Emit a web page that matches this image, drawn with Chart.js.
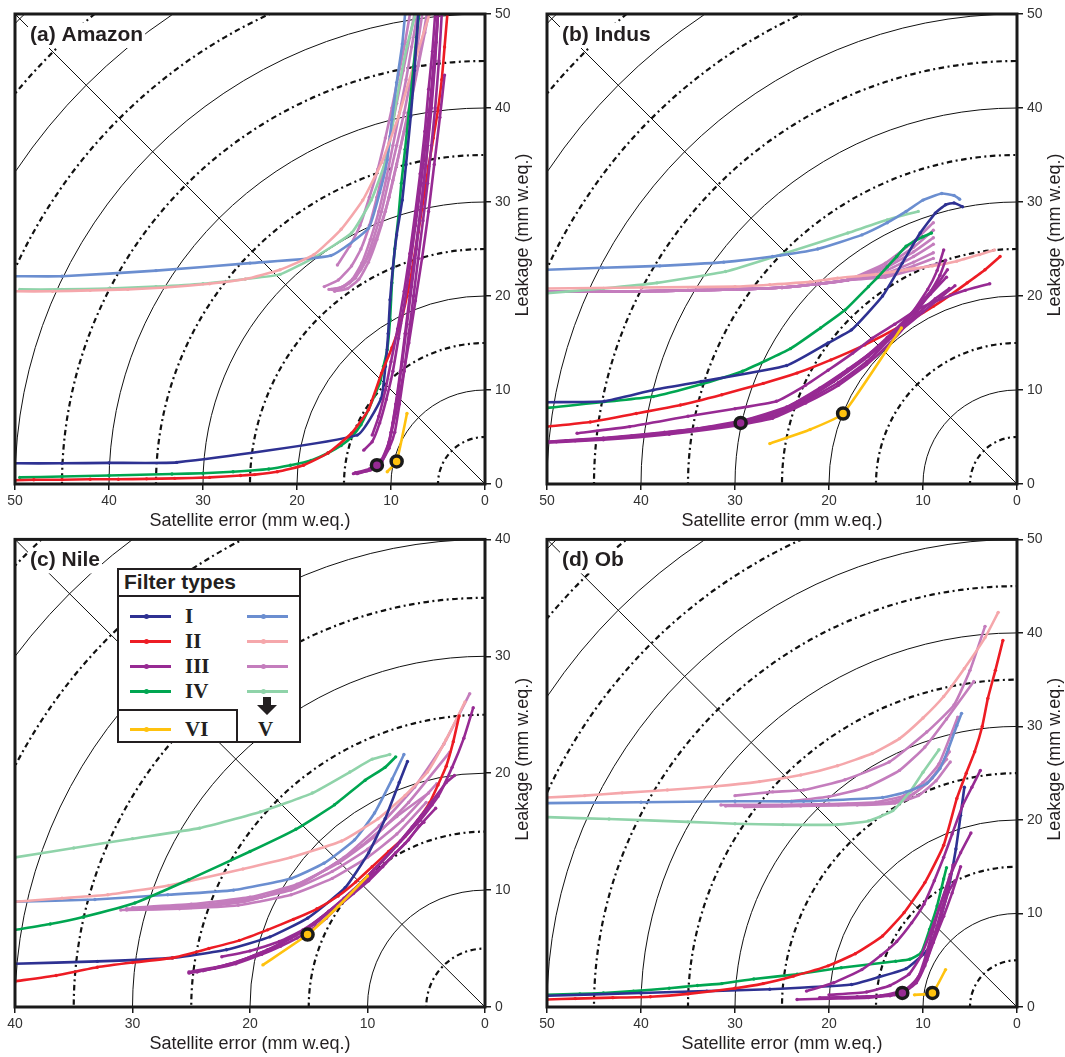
<!DOCTYPE html>
<html>
<head>
<meta charset="utf-8">
<script src="https://cdn.jsdelivr.net/npm/chart.js@4.4.1/dist/chart.umd.min.js"></script>
<style>
  body { margin: 0; background: #fff; }
  #page { position: relative; width: 1065px; height: 1057px; overflow: hidden; font-family: "Liberation Sans", Arial, sans-serif; }
  canvas { position: absolute; }
  .lg { position: absolute; box-sizing: border-box; }
  .rn { position: absolute; font: bold 21px "Liberation Serif", "Times New Roman", serif; color: #231f20; line-height: 24px; }
</style>
</head>
<body>
<div id="page">
  <canvas id="pa" width="545" height="530" style="left:0;top:0"></canvas>
  <canvas id="pb" width="535" height="530" style="left:530px;top:0"></canvas>
  <canvas id="pc" width="545" height="530" style="left:0;top:527px"></canvas>
  <canvas id="pd" width="535" height="530" style="left:530px;top:527px"></canvas>
</div>
<script>
// [satellite error, leakage] pairs
const ringsSolid = [10, 20, 30, 40, 50, 60, 70];
const ringsDash = [5, 15, 25, 35, 45, 55, 65];
const axisTicks50 = [0, 10, 20, 30, 40, 50];
const axisTicks40 = [0, 10, 20, 30, 40];

// ---- (a) Amazon
const amazonI = [[50,2.2],[45,2.2],[40,2.25],[32.8,2.3],[13.6,5.2],[11.05,9.1],[10.6,12.5],[10.3,16],[10.1,19.6],[9.8,23],[9.4,26.5],[8.8,30.2],[8.4,34],[7.9,39.1],[7.5,44],[7.1,50],[6.9,53]];
const amazonII = [[50,0.4],[48,0.45],[45,0.45],[42,0.5],[39,0.5],[36,0.55],[33,0.6],[29.3,0.7],[26,0.9],[24.5,1.0],[22.1,1.3],[19.3,2.0],[16.7,3.3],[14.2,5.4],[12.4,7.9],[11.0,11.8],[9.9,14.5],[9.0,17.1],[8.3,20],[7.7,23.1],[7.1,26.8],[6.5,30.6],[6.0,33.8],[5.5,36.8],[5.0,39.8],[4.6,43],[4.3,46.5],[4.0,50],[3.8,52]];
const amazonIV = [[49.5,0.7],[45,0.8],[40,0.9],[33.3,1.07],[30,1.15],[26.8,1.3],[23,1.6],[20.7,2.0],[18.5,2.5],[16.7,3.3],[15.3,4.1],[14.2,5.0],[13.2,6.3],[12.4,7.9],[11.8,9.3],[11.2,10.7],[10.8,12.5],[10.4,14.3],[10.1,17.5],[9.9,21.4],[9.6,25],[9.2,28.5],[8.9,32],[8.5,35.6],[8.1,39.5],[7.6,44.4],[7.3,47.5],[7.0,50],[6.8,52]];
const amazonIII = [
  [[14,1.1],[12.5,1.4],[11.2,2.2],[10.5,3.5],[10.0,5.5],[9.5,8.5],[9.0,12],[8.5,16],[8.0,20],[7.5,24],[7.0,28],[6.5,32],[6.1,36],[5.7,40],[5.3,45],[5.0,50],[4.8,52]],
  [[13.5,1.2],[12.2,1.5],[11.0,2.4],[10.2,3.8],[9.6,5.5],[9.1,8.5],[8.6,12],[8.1,16],[7.6,20],[7.1,24],[6.6,28],[6.1,32],[5.7,36],[5.3,40],[4.9,45],[4.6,50],[4.5,52]],
  [[12.9,3.6],[12.0,4.5],[11.2,6.5],[10.5,9],[9.8,12],[9.2,15.5],[8.6,19],[8.0,23],[7.4,27.5],[6.8,32],[6.3,36.5],[5.8,41],[5.4,45.5],[5.0,50],[4.9,52]],
  [[12.0,5.2],[11.3,7.2],[10.6,10],[10.0,13],[9.3,16.5],[8.6,20.5],[8.0,24.5],[7.4,29],[6.9,33],[6.4,37.5],[6.0,42],[5.6,46],[5.3,50],[5.2,52]],
  [[13.8,1.2],[12.3,1.6],[11.0,2.6],[10.2,4.5],[9.5,7.5],[8.8,11],[8.1,15],[7.4,19.5],[6.7,24],[6.0,29],[5.4,34],[4.8,39],[4.3,43.5]],
  [[13.6,1.1],[12.2,1.5],[11.0,2.3],[10.3,4],[9.8,6.5],[9.3,9.5],[8.8,13],[8.3,17],[7.8,21],[7.3,25],[6.8,29.5],[6.3,34],[5.9,38.5],[5.5,43],[5.2,47],[5.0,50],[4.9,52]]
];
const amazonVI = [[10.4,1.3],[9.4,2.4],[8.3,7.5]];
const amazonVI1 = [[50,22.1],[45,22.1],[35,22.7],[25,23.5],[16.4,24.3],[12.4,27.2],[11.2,31.0],[10.4,34.5],[9.9,38.8],[9.4,42.7],[8.8,46.8],[8.5,50],[8.3,52]];
const amazonVII = [[50,20.5],[46,20.5],[42,20.6],[38,20.7],[34,20.9],[29.3,21.3],[25.5,21.8],[21.8,22.8],[18.2,24.4],[15.3,27.1],[13.0,30.2],[11.0,34.2],[9.2,39.1],[7.4,45.2],[5.9,50],[5.5,51.5]];
const amazonVIV = [[49.5,20.7],[45,20.7],[40,20.8],[35,21.0],[30,21.3],[25.5,21.8],[21.8,22.3],[18.0,24.2],[14.2,26.7],[12.1,30.2],[10.4,34.9],[9.4,40.9],[8.3,46.6],[7.4,50],[7.1,51.5]];
const amazonVIII = [
  [[17.1,21.0],[15.6,21.7],[14.2,23.2],[13.2,25.0],[12.3,27.5],[11.5,30.5],[10.8,33.5],[10.1,37],[9.4,40.5],[8.7,44],[8.0,47.5],[7.4,50.5]],
  [[16.6,20.7],[15.3,20.9],[14.1,21.8],[13.1,23.5],[12.2,26],[11.3,29],[10.5,32.5],[9.8,36],[9.1,39.5],[8.4,43],[7.8,46.5],[7.1,50.5]],
  [[15.7,23.3],[14.4,25.3],[13.3,27.5],[12.3,30.5],[11.4,33.5],[10.6,36.8],[9.9,40],[9.2,43.5],[8.5,47],[7.9,50.5]],
  [[16.3,20.7],[15.0,21.0],[13.8,21.9],[12.8,23.6],[11.9,26],[11.0,29],[10.2,32.5],[9.4,36],[8.6,39.5],[7.9,43],[7.2,46.5],[6.6,50.5]],
  [[16.0,20.5],[14.6,20.8],[13.4,21.8],[12.4,23.6],[11.5,26],[10.6,29],[9.8,32.3],[9.0,35.8],[8.2,39.5],[7.4,43.2],[6.7,47],[6.1,50.5]],
  [[15.8,20.7],[14.4,21.4],[13.2,22.8],[12.1,24.8],[11.1,27.5],[10.2,30.5],[9.4,34],[8.6,37.5],[7.8,41],[7.1,44.5],[6.4,48],[5.8,51]]
];
const amazonMarks = [[11.5,2.0,'III'],[9.4,2.4,'VI']];

// ---- (b) Indus
const indusI = [[50,8.7],[43.9,8.8],[38.7,10.0],[33.6,10.9],[24.5,12.6],[20.1,15.0],[17.6,16.4],[14.3,20.0],[12.2,23.5],[10.3,26.7],[8.7,28.8],[7.6,29.7],[6.7,29.9],[5.8,29.5]];
const indusII = [[50,6.1],[45.4,6.6],[40.5,7.5],[35.8,8.4],[31.4,9.5],[27.0,10.7],[23.4,11.8],[19.8,13.2],[16.2,14.8],[12.2,16.9],[8.9,18.9],[7.1,20.1],[5.3,21.4],[3.4,22.8],[1.8,24.2]];
const indusIV = [[50,8.1],[38.7,9.3],[33.6,10.6],[29.2,12.0],[24.1,14.4],[20.9,16.6],[18.3,18.5],[15.8,21.0],[14.8,22.0],[13.8,23.1],[12.8,24.2],[11.8,25.3],[10.8,25.9],[10.0,26.3],[9.1,26.7]];
const indusIII = [
  [[46.8,5.4],[41.2,6.1],[35,7.2],[30,8.0],[25.6,8.8],[22.5,10.5],[20.1,12.1],[17.5,13.9],[15.4,15.5],[13,17],[10.7,18.5],[8,19.7],[5.5,20.6],[2.9,21.3]],
  [[50,4.5],[44,4.8],[37,5.4],[30,6.3],[26,7.2],[22.5,8.8],[19,10.8],[16,13],[13.5,15.5],[11.3,18],[9.5,20.7],[8.5,22.7],[7.8,24.9]],
  [[50,4.4],[44,4.7],[37,5.3],[30,6.2],[26,7.0],[22.5,8.6],[19,10.5],[16,12.7],[13.5,15],[11.3,17.5],[9.5,20],[8.2,22.2],[7.6,23.8]],
  [[49,4.5],[43,4.9],[36,5.5],[30,6.4],[25.5,7.6],[22,9.3],[18.8,11.4],[15.8,13.6],[13.2,15.9],[11,18.2],[9.2,20.2],[7.5,22.0]],
  [[48,4.6],[42,5.0],[35,5.7],[29.5,6.6],[25,7.9],[21.5,9.8],[18.5,11.8],[15.5,14],[12.8,16.2],[10.5,18.2],[8.7,19.7],[7.2,20.8]],
  [[47,4.6],[41,5.1],[34,5.9],[29,6.8],[24.5,8.2],[21,10.2],[18,12.2],[15,14.3],[12.3,16.4],[10,18.3],[8.2,19.8],[6.6,21.1]],
  [[50,4.5],[44,4.9],[37.5,5.5],[31,6.3],[26.5,7.3],[22.8,8.9],[19.5,10.9],[16.5,13.2],[13.8,15.6],[11.6,17.8],[9.8,19.8],[8.3,21.5],[7.4,22.8]]
];
const indusVI = [[26.3,4.3],[22,5.8],[18.5,7.5],[12.3,16.6]];
const indusVI1 = [[50,22.8],[44.1,23.0],[38,23.2],[31.2,23.6],[26,24.2],[21.2,25.0],[16.5,26.5],[13.8,27.8],[11.8,29.0],[10.0,30.2],[8.0,30.9],[6.7,30.7],[6.1,30.3]];
const indusVII = [[50,20.8],[40,20.9],[30,21.0],[26.3,21.2],[22,21.5],[19.1,21.9],[15,22.3],[11.8,22.8],[9,23.2],[6.4,23.7],[4,24.4],[2.4,24.9]];
const indusVIV = [[50,20.3],[44,20.8],[38.3,21.4],[31,22.6],[24.5,24.6],[18.0,26.7],[13.8,28.1],[10.5,29.0]];
const indusVIIIstart = [[50,20.5],[45,20.5],[40,20.5],[35,20.6],[30,20.7],[25,20.9],[21,21.3],[18,21.7]];
const indusVIII = [
  [...indusVIIIstart, [14,23.5],[11,25.8],[8.9,27.8]],
  [...indusVIIIstart, [14,23.2],[11,25.2],[8.9,27.0]],
  [...indusVIIIstart, [14,23.0],[11,24.7],[8.9,26.2]],
  [...indusVIIIstart, [14,22.7],[11,24.2],[8.9,25.5]],
  [...indusVIIIstart, [14,22.4],[11,23.6],[8.9,24.6]],
  [...indusVIIIstart, [14,22.2],[11,23.2],[8.9,24.0]],
  [...indusVIIIstart, [14,22.0],[11,22.8],[8.5,23.4]]
];
const indusMarks = [[29.4,6.5,'III'],[18.5,7.5,'VI']];

// ---- (c) Nile
const nileI = [[40,3.7],[33,3.9],[26.6,4.2],[22,4.9],[18.3,6.0],[15.1,7.6],[11.9,10.2],[9.9,13.2],[8.5,16.1],[7.3,19.2],[6.6,21.0]];
const nileII = [[40,2.2],[36.5,2.7],[33,3.4],[30,3.8],[26.6,4.2],[23.5,5.0],[20.9,5.7],[18.5,6.6],[16.3,7.5],[14.3,8.4],[12.5,9.5],[11,10.7],[9.6,12.0],[8.2,13.3],[6.8,14.6],[5.7,16],[4.7,17.5],[4,19],[3.3,20.6],[2.7,22.7],[2.2,24.9]];
const nileIV = [[40,6.6],[37,7.1],[34.2,7.7],[29.8,8.9],[25.2,10.9],[20,13.3],[16.1,15.2],[12.8,17.3],[10.2,19.4],[8.5,20.5],[7.6,21.4]];
const nileIII = [
  [[25.2,2.9],[23,3.3],[21.2,3.7],[19,4.5],[17.4,5.2],[16,5.9],[14.8,6.6],[13.5,7.6],[12.5,8.6],[11.2,9.7],[9.9,10.8],[8.7,12],[7.6,13.2],[6.5,14.3],[5.6,15.5],[5.2,15.8]],
  [[25.2,3.0],[22,3.6],[19,4.6],[16.5,5.9],[14.5,7.1],[12.5,8.8],[10.5,10.5],[8.5,12.3],[6.8,14.0],[5.3,15.8],[4.2,17.0]],
  [[24.5,3.0],[21.5,3.7],[18.5,4.9],[16,6.2],[14,7.6],[12,9.3],[10,11.2],[8,13.3],[6.2,15.4],[4.5,17.6],[3.3,19.2],[2.6,19.8]],
  [[22.4,4.3],[20,4.8],[17.5,5.6],[15.5,6.6],[13.5,8.0],[11.5,9.7],[9.5,11.7],[7.5,13.8],[5.5,16.0],[4,18],[2.8,20.5],[1.8,23],[1.0,25.6]],
  [[24,3.1],[21,3.9],[18,5.1],[15.5,6.5],[13.3,8.2],[11.2,10.0],[9.2,12.0],[7.2,14.2],[5.4,16.4],[4.5,17.3]]
];
const nileVI = [[18.9,3.6],[15.1,6.2],[12.5,8.6],[10.0,11.2]];
const nileVI1 = [[40,9.0],[33.2,9.2],[27,9.6],[21.4,10.0],[16.5,11.0],[13.7,12.3],[11.1,14.3],[9.4,16.6],[7.9,19.5],[6.9,21.6]];
const nileVII = [[40,9.0],[36,9.3],[32.1,9.6],[26.9,10.4],[20.6,11.8],[16.5,12.8],[12.2,14.2],[9.1,16.1],[6.8,18.1],[4.9,20.1],[3.3,22.9],[1.7,26.1]];
const nileVIV = [[40,12.8],[35,13.6],[30,14.4],[24.3,15.3],[19.1,16.7],[14.7,18.3],[11.5,20.1],[9.6,21.2],[8.1,21.6]];
const nileVIII = [
  [[30.5,8.3],[26,8.4],[21,8.7],[16.5,9.6],[13,11.0],[10,12.8],[7.5,14.8],[5.0,17.5]],
  [[30.5,8.4],[26,8.6],[21,9.0],[16.5,10.0],[13,11.6],[10,13.5],[7,16.0],[4.1,19.1]],
  [[30,8.5],[25,8.8],[20,9.4],[16,10.5],[12.5,12.3],[9.5,14.5],[6.5,17.5],[3.0,21.8]],
  [[29,8.4],[24,8.7],[19,9.4],[15.5,10.6],[12,12.8],[9,15.5],[6,18.8],[3.5,22.5],[1.3,26.8]],
  [[31,8.3],[25,8.5],[20.5,9.0],[16.5,10.2],[13.5,11.8],[10.5,13.8],[7.5,16.3],[4.8,18.3]]
];
const nileMarks = [[15.1,6.2,'VI']];

// ---- (d) Ob
const obI = [[50,1.2],[40,1.5],[33,1.7],[26.3,1.9],[17.6,2.4],[14.7,3.2],[11.8,4.1],[9.6,6.0],[8.5,8.3],[7.4,12.2],[6.5,16.9],[6.0,20.5],[5.6,23.5]];
const obII = [[50,0.8],[47,0.9],[43,1.0],[39.0,1.1],[35,1.4],[30.0,2.0],[27,2.5],[23.8,3.3],[20.1,4.4],[17.2,5.7],[14.3,7.6],[12.0,10.1],[9.8,13.3],[7.8,17.3],[6.4,22.3],[5.4,25],[4.5,27.3],[3.7,30],[3.1,33.0],[2.3,36],[1.5,39.2]];
const obIV = [[50,1.3],[46.5,1.4],[44,1.5],[40.8,1.7],[37,2.0],[34,2.3],[31.4,2.5],[28,3.0],[23.4,3.5],[18.7,4.2],[12.9,4.9],[11.4,5.1],[10.2,5.8],[9.3,8.3],[8.5,10.8],[7.8,13.7],[7.5,14.9]];
const obIII = [
  [[23.4,0.8],[20,0.9],[15.8,1.0],[12.2,1.5],[10.7,2.6],[9.8,4.4],[8.9,6.9],[7.8,9.7],[6.9,12.2],[6.0,15.0]],
  [[22.4,1.7],[19.5,2.6],[16.5,4.0],[14.5,5.5],[12.8,7.0],[11.2,9.0],[9.9,11.0],[8.8,13.5],[7.8,16],[6.9,18.5],[5.8,21.5],[4.8,23.5],[3.9,25.3]],
  [[20,1.3],[16,1.6],[13.5,2.3],[11.5,3.5],[10.2,5.5],[9.2,8],[8.2,10.8],[7.2,13.8],[6.0,16.5],[4.9,18.6]],
  [[18,1.0],[14.5,1.2],[12,1.8],[10.6,3.0],[9.6,5.0],[8.8,7.5],[8.0,10],[7.3,12.3],[6.6,13.5]],
  [[16,1.1],[13,1.3],[11.5,2.0],[10.3,3.5],[9.5,5.5],[8.7,8],[8.0,10.5],[7.4,12.5],[6.8,15.2]],
  [[21,1.0],[17,1.1],[13.5,1.2],[11.8,1.8],[10.5,3.2],[9.7,5.5],[9.0,8.0],[8.3,10.5],[7.5,12.8],[7.1,14.2]]
];
const obVI = [[10.9,1.3],[9.0,1.5],[7.6,4.0]];
const obVI1 = [[50,21.8],[40,21.9],[30,22.0],[22.7,22.0],[14.3,22.4],[11.8,23.0],[9.6,23.9],[8.2,25.5],[7.3,27.6],[6.4,30.1],[5.9,31.4]];
const obVII = [[50,22.4],[46,22.6],[42,22.9],[37.2,23.2],[32,23.6],[27.4,24.1],[23,24.8],[19.1,25.8],[15.4,27.1],[12.5,28.7],[10.0,30.9],[7.8,33.2],[5.6,36.2],[3.4,39.5],[2.0,42.2]];
const obVIV = [[50,20.3],[43.4,20.1],[35,19.8],[30,19.6],[24.9,19.5],[19.1,19.5],[15.8,19.9],[13.2,21.0],[11.4,23.0],[10.0,25.1],[8.3,27.5]];
const obVIII = [
  [[30,22.6],[26,23.0],[22.7,23.2],[18.3,24.3],[13.6,26.2],[9.6,29.4],[6.7,32.3],[5,36],[3.4,40.7]],
  [[24,22.0],[20,22.5],[16,23.5],[12.5,25.3],[9.8,27.8],[7.5,30.8],[4.6,34.8]],
  [[31.5,21.6],[25,21.6],[20,21.7],[15,21.9],[12,22.6],[10,24],[8.3,26],[6.3,31.0]],
  [[31,21.5],[25,21.5],[19,21.6],[14,21.8],[11.5,22.5],[9.5,24],[7.5,26.5]],
  [[30,21.6],[24,21.6],[18,21.7],[13.5,21.9],[11,22.8],[9,24.5],[7.2,27.3]],
  [[29,21.4],[23,21.5],[17,21.6],[13,21.8],[10.5,22.6],[8.6,24.2],[7.1,26.2]]
];
const obMarks = [[12.2,1.5,'III'],[9.0,1.5,'VI']];

const colors = {
  I: '#2e3192', II: '#ed1c24', III: '#972a93', IV: '#00a651', VI: '#ffc20e',
  VI1: '#6b8ed0', VII: '#f5a7ab', VIII: '#c47dbd', VIV: '#8fd3a9'
};

const fontSans = '"Liberation Sans", Arial, Helvetica, sans-serif';

function lineSet(points, color) {
  return {
    data: points.map(p => ({ x: p[0], y: p[1] })),
    borderColor: color,
    backgroundColor: color,
    borderWidth: 2.6,
    pointRadius: 1.7,
    pointBorderWidth: 0,
    pointBackgroundColor: color,
    tension: 0.15,
    fill: false
  };
}

function markSet(marks) {
  return {
    data: marks.map(m => ({ x: m[0], y: m[1] })),
    showLine: false,
    pointRadius: 5.5,
    pointBorderWidth: 3.5,
    pointBorderColor: '#1a1a1a',
    pointBackgroundColor: marks.map(m => colors[m[2]]),
    clip: false
  };
}

// bottom-to-top drawing order
function buildSets(s) {
  const list = [];
  s.VIII.forEach(l => list.push(lineSet(l, colors.VIII)));
  list.push(lineSet(s.VIV, colors.VIV));
  list.push(lineSet(s.VI1, colors.VI1));
  list.push(lineSet(s.VII, colors.VII));
  list.push(lineSet(s.IV, colors.IV));
  list.push(lineSet(s.I, colors.I));
  list.push(lineSet(s.II, colors.II));
  s.III.forEach(l => list.push(lineSet(l, colors.III)));
  list.push(lineSet(s.VI, colors.VI));
  list.push(markSet(s.marks));
  return list.reverse();
}

const ringsPlugin = {
  id: 'rings',
  beforeDatasetsDraw(chart) {
    const { ctx, chartArea: a, scales: { x, y } } = chart;
    const x0 = x.getPixelForValue(0), y0 = y.getPixelForValue(0);
    ctx.save();
    ctx.beginPath();
    ctx.rect(a.left, a.top, a.width, a.height);
    ctx.clip();
    ctx.strokeStyle = '#111';
    ringsSolid.forEach(r => {
      ctx.lineWidth = 1;
      ctx.setLineDash([]);
      ctx.beginPath();
      ctx.ellipse(x0, y0, Math.abs(x.getPixelForValue(r) - x0), Math.abs(y.getPixelForValue(r) - y0), 0, 0, Math.PI * 2);
      ctx.stroke();
    });
    ringsDash.forEach(r => {
      ctx.lineWidth = 2.2;
      ctx.setLineDash([5.5, 3.5, 2, 3.5]);
      ctx.beginPath();
      ctx.ellipse(x0, y0, Math.abs(x.getPixelForValue(r) - x0), Math.abs(y.getPixelForValue(r) - y0), 0, 0, Math.PI * 2);
      ctx.stroke();
    });
    ctx.setLineDash([]);
    ctx.lineWidth = 1;
    ctx.beginPath();
    ctx.moveTo(x0, y0);
    ctx.lineTo(x.getPixelForValue(x.max), y.getPixelForValue(y.max));
    ctx.stroke();
    ctx.restore();
  }
};

const framePlugin = {
  id: 'frame',
  afterDraw(chart) {
    const { ctx, chartArea: a } = chart;
    const label = chart.options.plugins.frame.label;
    ctx.save();
    ctx.strokeStyle = '#1a1a1a';
    ctx.lineWidth = 3;
    ctx.strokeRect(a.left, a.top, a.width, a.height);

    ctx.font = 'bold 21px ' + fontSans;
    ctx.textBaseline = 'middle';
    ctx.textAlign = 'left';
    const w = ctx.measureText(label).width;
    ctx.fillStyle = '#fff';
    ctx.fillRect(a.left + 13, a.top + 9, w + 4, 25);
    ctx.fillStyle = '#231f20';
    ctx.fillText(label, a.left + 15, a.top + 21);

    ctx.font = '18px ' + fontSans;
    ctx.textAlign = 'center';
    ctx.fillStyle = '#231f20';
    ctx.fillText('Satellite error (mm w.eq.)', (a.left + a.right) / 2, a.bottom + 37);
    ctx.translate(a.right + 38, (a.top + a.bottom) / 2 - 14);
    ctx.rotate(-Math.PI / 2);
    ctx.fillText('Leakage (mm w.eq.)', 0, 0);
    ctx.restore();
  }
};

function makePanel(id, label, max, ticks, pad, series) {
  const tickFont = { size: 14, family: fontSans };
  new Chart(document.getElementById(id), {
    type: 'line',
    data: { datasets: buildSets(series) },
    options: {
      responsive: false,
      animation: false,
      devicePixelRatio: 1,
      layout: { padding: pad },
      plugins: { legend: { display: false }, tooltip: { enabled: false }, frame: { label: label } },
      scales: {
        x: {
          type: 'linear', reverse: true, min: 0, max: max, position: 'bottom',
          afterBuildTicks: s => { s.ticks = ticks.map(v => ({ value: v })); },
          ticks: { color: '#333', font: tickFont, padding: 3, maxRotation: 0 },
          grid: { drawOnChartArea: false, drawTicks: true, tickLength: 6, color: '#1a1a1a', lineWidth: 1.5 },
          border: { display: false },
          afterFit: s => { s.height = 36; }
        },
        y: {
          type: 'linear', min: 0, max: max, position: 'right',
          afterBuildTicks: s => { s.ticks = ticks.map(v => ({ value: v })); },
          ticks: { color: '#333', font: tickFont, padding: 4 },
          grid: { drawOnChartArea: false, drawTicks: true, tickLength: 6, color: '#1a1a1a', lineWidth: 1.5 },
          border: { display: false },
          afterFit: s => { s.width = 40; }
        }
      }
    },
    plugins: [ringsPlugin, framePlugin]
  });
}

makePanel('pa', '(a) Amazon', 50, axisTicks50, { left: 15, top: 14, right: 20, bottom: 10 }, {
  I: amazonI, II: amazonII, III: amazonIII, IV: amazonIV, VI: amazonVI,
  VI1: amazonVI1, VII: amazonVII, VIII: amazonVIII, VIV: amazonVIV, marks: amazonMarks
});
makePanel('pb', '(b) Indus', 50, axisTicks50, { left: 17, top: 14, right: 8, bottom: 10 }, {
  I: indusI, II: indusII, III: indusIII, IV: indusIV, VI: indusVI,
  VI1: indusVI1, VII: indusVII, VIII: indusVIII, VIV: indusVIV, marks: indusMarks
});
makePanel('pc', '(c) Nile', 40, axisTicks40, { left: 15, top: 12, right: 20, bottom: 14 }, {
  I: nileI, II: nileII, III: nileIII, IV: nileIV, VI: nileVI,
  VI1: nileVI1, VII: nileVII, VIII: nileVIII, VIV: nileVIV, marks: nileMarks
});
makePanel('pd', '(d) Ob', 50, axisTicks50, { left: 17, top: 12, right: 8, bottom: 14 }, {
  I: obI, II: obII, III: obIII, IV: obIV, VI: obVI,
  VI1: obVI1, VII: obVII, VIII: obVIII, VIV: obVIV, marks: obMarks
});

// legend box drawn over panel (c)
const legendRows = [
  { name: 'I', dark: colors.I, light: colors.VI1, y: 616 },
  { name: 'II', dark: colors.II, light: colors.VII, y: 641 },
  { name: 'III', dark: colors.III, light: colors.VIII, y: 666 },
  { name: 'IV', dark: colors.IV, light: colors.VIV, y: 691 }
];
const page = document.getElementById('page');
function addEl(html) {
  const d = document.createElement('div');
  d.innerHTML = html;
  const el = d.firstChild;
  page.appendChild(el);
  return el;
}
function legendLine(x, y, color) {
  addEl(`<div class="lg" style="left:${x}px;top:${y - 1.5}px;width:41px;height:3px;background:${color}"></div>`);
  addEl(`<div class="lg" style="left:${x + 14}px;top:${y - 2.5}px;width:5px;height:5px;border-radius:50%;background:${color}"></div>`);
}
addEl('<div class="lg" style="left:117px;top:568px;width:184px;height:175px;border:2px solid #231f20;background:#fff"></div>');
addEl('<div class="lg" style="left:117px;top:595px;width:184px;height:2px;background:#231f20"></div>');
addEl('<div class="lg" style="left:124px;top:569px;font:bold 21px ' + fontSans.replace(/"/g, "'") + ';color:#231f20;line-height:26px">Filter types</div>');
addEl('<div class="lg" style="left:117px;top:709px;width:121px;height:34px;border:2px solid #231f20"></div>');
legendRows.forEach(r => {
  legendLine(130, r.y, r.dark);
  legendLine(247, r.y, r.light);
  addEl(`<div class="rn" style="left:185px;top:${r.y - 12}px">${r.name}</div>`);
});
legendLine(130, 729, colors.VI);
addEl('<div class="rn" style="left:185px;top:717px">VI</div>');
addEl('<svg class="lg" style="left:257px;top:697px" width="20" height="18"><polygon points="6,0 14,0 14,8 20,8 10,18 0,8 6,8" fill="#231f20"/></svg>');
addEl('<div class="rn" style="left:258px;top:717px">V</div>');
</script>
</body>
</html>
